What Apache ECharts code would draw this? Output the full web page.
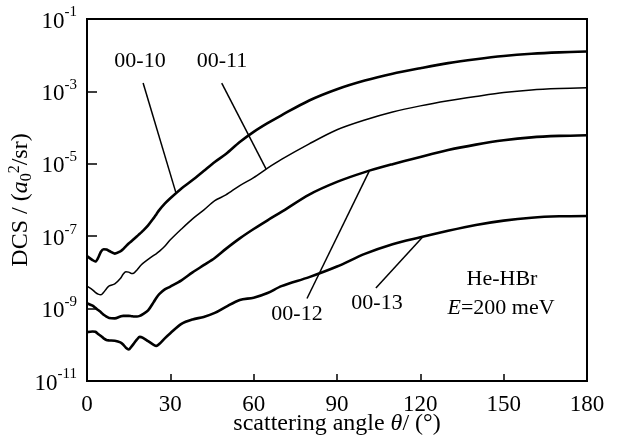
<!DOCTYPE html>
<html>
<head>
<meta charset="utf-8">
<script src="https://cdn.jsdelivr.net/npm/echarts@6/dist/echarts.min.js"></script>
<style>
  html, body { margin: 0; padding: 0; background: #fff; }
  #chart { width: 625px; height: 442px; }
</style>
</head>
<body>
<div id="chart"></div>
<script>
// scattering angle (deg), shared by all four curves
const angles = [0, 2, 3, 4, 5, 6, 7, 8, 10, 12, 13, 14, 15, 16, 17, 18, 19, 20, 22, 24, 25, 26, 28, 30,
  34, 38, 42, 46, 50, 55, 60, 65, 70, 80, 90, 100, 110, 120, 130, 140, 150, 160, 170, 180];

// DCS values (a0^2/sr)
const dcs0010 = [2.82e-8, 2.19e-8, 2.00e-8, 2.51e-8, 3.72e-8, 4.37e-8, 4.27e-8, 3.89e-8, 3.31e-8, 3.80e-8, 4.37e-8, 5.25e-8,
  6.31e-8, 7.24e-8, 8.51e-8, 1.00e-7, 1.17e-7, 1.38e-7, 2.00e-7, 3.16e-7, 4.07e-7, 5.25e-7, 7.94e-7, 1.12e-6,
  2.09e-6, 3.55e-6, 6.31e-6, 1.12e-5, 1.86e-5, 3.98e-5, 7.59e-5, 1.32e-4, 2.19e-4, 5.62e-4, 1.15e-3, 2.00e-3,
  3.09e-3, 4.37e-3, 6.03e-3, 7.76e-3, 9.55e-3, 1.10e-2, 1.20e-2, 1.26e-2];
const dcs0011 = [4.17e-9, 3.31e-9, 2.82e-9, 2.51e-9, 2.40e-9, 2.82e-9, 3.55e-9, 4.27e-9, 4.79e-9, 6.76e-9, 8.91e-9, 1.05e-8,
  1.02e-8, 9.33e-9, 9.77e-9, 1.17e-8, 1.45e-8, 1.74e-8, 2.29e-8, 2.95e-8, 3.31e-8, 3.80e-8, 5.25e-8, 7.94e-8,
  1.58e-7, 3.02e-7, 5.25e-7, 9.55e-7, 1.38e-6, 2.51e-6, 4.17e-6, 7.59e-6, 1.32e-5, 3.55e-5, 8.71e-5, 1.62e-4,
  2.69e-4, 3.98e-4, 5.50e-4, 7.24e-4, 9.33e-4, 1.10e-3, 1.20e-3, 1.26e-3];
const dcs0012 = [1.41e-9, 1.20e-9, 1.05e-9, 9.12e-10, 7.94e-10, 6.76e-10, 6.03e-10, 5.50e-10, 5.37e-10, 6.03e-10, 6.31e-10, 6.31e-10,
  6.31e-10, 6.17e-10, 6.03e-10, 6.03e-10, 6.31e-10, 6.92e-10, 8.91e-10, 1.51e-9, 2.00e-9, 2.51e-9, 3.39e-9, 4.07e-9,
  6.03e-9, 1.00e-8, 1.58e-8, 2.51e-8, 4.47e-8, 8.71e-8, 1.58e-7, 2.75e-7, 4.68e-7, 1.41e-6, 3.16e-6, 5.89e-6,
  9.77e-6, 1.55e-5, 2.40e-5, 3.39e-5, 4.47e-5, 5.37e-5, 5.89e-5, 6.17e-5];
const dcs0013 = [2.24e-10, 2.34e-10, 2.29e-10, 2.00e-10, 1.74e-10, 1.51e-10, 1.35e-10, 1.32e-10, 1.29e-10, 1.17e-10, 1.02e-10, 8.32e-11,
  7.41e-11, 8.91e-11, 1.12e-10, 1.41e-10, 1.66e-10, 1.58e-10, 1.26e-10, 1.00e-10, 9.33e-11, 1.05e-10, 1.51e-10, 2.09e-10,
  3.80e-10, 5.01e-10, 5.89e-10, 7.59e-10, 1.12e-9, 1.74e-9, 2.00e-9, 2.69e-9, 4.17e-9, 7.41e-9, 1.45e-8, 3.24e-8,
  6.03e-8, 9.33e-8, 1.41e-7, 2.04e-7, 2.69e-7, 3.24e-7, 3.55e-7, 3.63e-7];

// leader lines: [label end, curve end] in data units
const leader0010 = [[20.2, 1.7e-3], [32, 1.6e-6]];
const leader0011 = [[48.5, 1.7e-3], [64.5, 7.1e-6]];
const leader0012 = [[79.2, 1.9e-9], [101.6, 6.3e-6]];
const leader0013 = [[104, 3.7e-9], [121, 9.8e-8]];

const FONT = '"Liberation Serif", "Times New Roman", serif';

const chart = echarts.init(document.getElementById('chart'), null, { renderer: 'canvas' });

function curve(name, values, width, leader) {
  return {
    name,
    type: 'line',
    data: angles.map((a, i) => [a, values[i]]),
    smooth: 0.3,
    symbol: 'none',
    lineStyle: { color: '#000', width },
    z: 3,
    markLine: {
      silent: true,
      symbol: ['none', 'none'],
      label: { show: false },
      lineStyle: { color: '#000', width: 1.5, type: 'solid' },
      data: [[{ coord: leader[0] }, { coord: leader[1] }]],
      animation: false
    }
  };
}

const txt = (text, x, y, rich) => ({
  type: 'text',
  x, y,
  style: {
    text, rich,
    textAlign: 'center', textVerticalAlign: 'middle',
    font: '22px ' + FONT, fill: '#000'
  }
});

chart.setOption({
  animation: false,
  grid: {
    left: 87, right: 38, top: 19, bottom: 61,
    containLabel: false, outerBoundsMode: 'none',
    show: true, borderColor: '#000', borderWidth: 2
  },
  xAxis: {
    type: 'value',
    min: 0, max: 180, interval: 30,
    axisLine: { lineStyle: { color: '#000', width: 2 } },
    axisTick: { inside: true, length: 7, lineStyle: { color: '#000', width: 1.5 } },
    splitLine: { show: false },
    axisLabel: { color: '#000', fontFamily: FONT, fontSize: 23, margin: 12 },
    name: 'scattering angle {i|θ}/ (°)',
    nameLocation: 'middle',
    nameGap: 31,
    nameMoveOverlap: false,
    nameTextStyle: {
      color: '#000', fontFamily: FONT, fontSize: 24,
      rich: { i: { fontStyle: 'italic', fontFamily: FONT, fontSize: 24, color: '#000' } }
    }
  },
  yAxis: {
    type: 'log',
    logBase: 10,
    min: 1e-11, max: 1e-1, interval: 2,
    axisLine: { lineStyle: { color: '#000', width: 2 } },
    axisTick: { inside: true, length: 10, lineStyle: { color: '#000', width: 1.5 } },
    minorTick: { show: false },
    splitLine: { show: false },
    axisLabel: {
      margin: 10,
      formatter: v => '{b|10}{s|' + Math.round(Math.log10(v)) + '}',
      rich: {
        b: { fontFamily: FONT, fontSize: 23, color: '#000', lineHeight: 28, verticalAlign: 'bottom' },
        s: { fontFamily: FONT, fontSize: 15, color: '#000', lineHeight: 28, verticalAlign: 'top', padding: [0, 0, 11, 0] }
      }
    },
    name: 'DCS / ({i|a}{sub|0}{sup|2}/sr)',
    nameLocation: 'middle',
    nameRotate: 90,
    nameGap: 52,
    nameMoveOverlap: false,
    nameTextStyle: {
      color: '#000', fontFamily: FONT, fontSize: 24,
      rich: {
        i: { fontStyle: 'italic', fontFamily: FONT, fontSize: 24, color: '#000' },
        sub: { fontFamily: FONT, fontSize: 16, color: '#000', padding: [12, 0, 0, 0] },
        sup: { fontFamily: FONT, fontSize: 16, color: '#000', padding: [0, 0, 12, 0] }
      }
    }
  },
  series: [
    curve('00-10', dcs0010, 2.6, leader0010),
    curve('00-11', dcs0011, 1.5, leader0011),
    curve('00-12', dcs0012, 2.6, leader0012),
    curve('00-13', dcs0013, 2.6, leader0013)
  ],
  graphic: [
    txt('00-10', 140, 61),
    txt('00-11', 222, 61),
    txt('00-12', 297, 314),
    txt('00-13', 377, 303),
    txt('He-HBr', 502, 279),
    txt('{i|E}=200 meV', 501, 308, { i: { fontStyle: 'italic', fontFamily: FONT, fontSize: 22 } })
  ]
});
</script>
</body>
</html>
